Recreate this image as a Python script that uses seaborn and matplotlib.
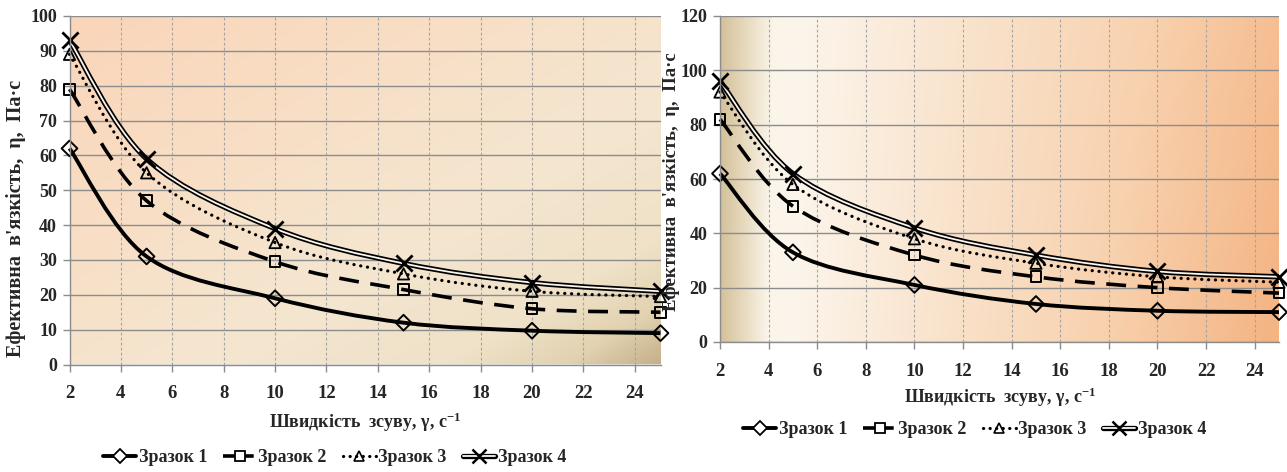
import numpy as np
import pandas as pd
import matplotlib
matplotlib.use("Agg")
import matplotlib.pyplot as plt
import seaborn as sns
from matplotlib.path import Path
from matplotlib.patches import PathPatch
from matplotlib.lines import Line2D
from matplotlib.legend_handler import HandlerTuple
import matplotlib.colors as mcolors

# ---------------- data ----------------
shear_rate = [2, 5, 10, 15, 20, 25]
series_names = ["Зразок 1", "Зразок 2", "Зразок 3", "Зразок 4"]

left_s1 = [62, 31, 19, 12, 9.7, 9]
left_s2 = [79, 47, 29.5, 21.5, 16, 15]
left_s3 = [89, 55, 35, 26, 21, 19.5]
left_s4 = [93, 59, 39, 29, 23.5, 21]

right_s1 = [62, 33, 21, 14, 11.5, 11]
right_s2 = [82, 50, 32, 24, 20, 18]
right_s3 = [92, 58, 38, 29, 24, 22]
right_s4 = [96, 62, 42, 32, 26, 24]

x_ticks = [2, 4, 6, 8, 10, 12, 14, 16, 18, 20, 22, 24]
left_y_ticks = [0, 10, 20, 30, 40, 50, 60, 70, 80, 90, 100]
right_y_ticks = [0, 20, 40, 60, 80, 100, 120]

x_label = "Швидкість  зсуву, γ, с$^{-1}$"
y_label_left = "Ефективна  в'язкість,  η,  Па·с"
y_label_right = "Ефективна  в'язкість,  η,  Па·с"

# ---------------- style ----------------
sns.set_theme(style="white")
plt.rcParams["font.family"] = ["Liberation Serif", "DejaVu Serif"]
plt.rcParams["font.weight"] = "bold"
plt.rcParams["axes.labelweight"] = "bold"
plt.rcParams["mathtext.fontset"] = "custom"
plt.rcParams["mathtext.rm"] = "Liberation Serif:bold"
plt.rcParams["mathtext.it"] = "Liberation Serif:bold"
plt.rcParams["mathtext.bf"] = "Liberation Serif:bold"

fig = plt.figure(figsize=(12.87, 4.72), dpi=100)
ax_l = fig.add_axes([69.5 / 1287, 1 - 364.5 / 472, (660.5 - 69.5) / 1287, (364.5 - 16) / 472])
ax_r = fig.add_axes([720 / 1287, 1 - 342 / 472, (1279 - 720) / 1287, (342 - 16) / 472])


def gradient(stops, t):
    pos = [p for p, _ in stops]
    cols = np.array([mcolors.to_rgb(c) for _, c in stops])
    out = np.zeros(t.shape + (3,))
    for k in range(3):
        out[..., k] = np.interp(t, pos, cols[:, k])
    return out


def smooth_path(x, y):
    pts = np.column_stack([x, y]).astype(float)
    n = len(pts)
    verts = [pts[0]]
    codes = [Path.MOVETO]
    for i in range(n - 1):
        p0 = pts[i - 1] if i > 0 else pts[i]
        p1 = pts[i]
        p2 = pts[i + 1]
        p3 = pts[i + 2] if i + 2 < n else pts[i + 1]
        c1 = p1 + (p2 - p0) / 6.0
        c2 = p2 - (p3 - p1) / 6.0
        verts += [c1, c2, p2]
        codes += [Path.CURVE4] * 3
    return Path(verts, codes)


line_styles = [
    dict(lw=2.8, ls="solid", cap="butt"),
    dict(lw=2.6, ls=(0, (5.5, 3.2)), cap="butt"),
    dict(lw=2.3, ls=(0, (0.05, 2.1)), cap="round"),
    None,  # double line
]
marker_specs = [
    dict(marker="D", s=64, facecolor="none", edgecolor="black", linewidth=1.4),
    dict(marker="s", s=60, facecolor="none", edgecolor="black", linewidth=1.4),
    dict(marker="^", s=66, facecolor="none", edgecolor="black", linewidth=1.3),
    dict(marker="x", s=135, color="black", linewidth=2.0),
]


def draw_panel(ax, series, yticks, ymax, bg):
    ny, nx = 200, 400
    u = np.linspace(0, 1, nx)[None, :].repeat(ny, 0)
    v = np.linspace(0, 1, ny)[:, None].repeat(nx, 1)  # 0 top -> 1 bottom
    ax.imshow(bg(u, v), extent=[0, 1, 0, 1], transform=ax.transAxes,
              aspect="auto", zorder=0, interpolation="bilinear")
    for yt in yticks:
        ax.axhline(yt, color="#8c8c8c", lw=1.0, zorder=1)
    for xt in x_ticks:
        ax.axvline(xt, color="#a3a3a3", lw=0.8, ls=(0, (2.5, 2)), zorder=1)

    for i, vals in enumerate(series):
        path = smooth_path(shear_rate, vals)
        if line_styles[i] is None:
            ax.add_patch(PathPatch(path, facecolor="none", edgecolor="black",
                                   lw=3.8, zorder=3, clip_on=False))
            ax.add_patch(PathPatch(path, facecolor="none", edgecolor="#fbf6f0",
                                   lw=1.3, zorder=3.1, clip_on=False))
        else:
            st = line_styles[i]
            ax.add_patch(PathPatch(path, facecolor="none", edgecolor="black",
                                   lw=st["lw"], linestyle=st["ls"],
                                   capstyle=st["cap"], zorder=3, clip_on=False))
        df = pd.DataFrame({"x": shear_rate, "y": vals})
        sns.scatterplot(data=df, x="x", y="y", ax=ax, zorder=4, legend=False,
                        clip_on=False, **marker_specs[i])

    ax.set_xlim(2, 25)
    ax.set_ylim(0, ymax)
    ax.set_xticks(x_ticks)
    ax.set_yticks(yticks)
    ax.set_xlabel("")
    ax.set_ylabel("")
    for side in ["top", "right"]:
        ax.spines[side].set_visible(False)
    for side in ["left", "bottom"]:
        ax.spines[side].set_color("#8c8c8c")
        ax.spines[side].set_linewidth(1.0)
        ax.spines[side].set_zorder(5)
    ax.tick_params(axis="both", which="major", length=5, width=1.0,
                   color="#8c8c8c", direction="out", labelsize=13.5,
                   bottom=True, left=True)
    ax.tick_params(axis="x", pad=10)
    ax.tick_params(axis="y", pad=4, labelsize=13)
    for lab in ax.get_xticklabels() + ax.get_yticklabels():
        lab.set_fontweight("bold")


def bg_left(u, v):
    t = (u + v) / 2.0
    stops = [(0.0, "#fad5b9"), (0.35, "#f8dfc6"), (0.6, "#f5e6d0"),
             (0.82, "#efe2c8"), (0.92, "#e2d2b1"), (1.0, "#c5b089")]
    return gradient(stops, t)


def bg_right(u, v):
    t = np.clip(u * (0.9 + 0.12 * v), 0, 1)
    stops = [(0.0, "#d3c199"), (0.04, "#e6d9bd"), (0.085, "#faf4e9"),
             (0.13, "#fcf5eb"), (0.4, "#f9e3cc"), (0.7, "#f8d1ae"),
             (1.0, "#f4b585")]
    return gradient(stops, t)


draw_panel(ax_l, [left_s1, left_s2, left_s3, left_s4], left_y_ticks, 100, bg_left)
draw_panel(ax_r, [right_s1, right_s2, right_s3, right_s4], right_y_ticks, 120, bg_right)

# axis labels
fig.text(365 / 1287, 1 - 422 / 472, x_label, ha="center", va="center",
         fontsize=13, fontweight="bold")
fig.text(1000 / 1287, 1 - 397 / 472, x_label, ha="center", va="center",
         fontsize=13, fontweight="bold")
fig.text(16 / 1287, 1 - 218 / 472, y_label_left, ha="center", va="center",
         rotation=90, fontsize=14.5, fontweight="bold")
fig.text(671 / 1287, 1 - 182 / 472, y_label_right, ha="center", va="center",
         rotation=90, fontsize=13.5, fontweight="bold")


def legend_handles():
    h1 = Line2D([], [], color="black", lw=2.8, marker="D", ms=7.5,
                mfc="white", mec="black", mew=1.3)
    h2 = Line2D([], [], color="black", lw=2.6, ls=(0, (3.5, 1.5)), marker="s",
                ms=7.5, mfc="white", mec="black", mew=1.3)
    h3 = Line2D([], [], color="black", lw=2.3, ls=(0, (0.05, 2.0)),
                dash_capstyle="round", marker="^", ms=7.5, mfc="none",
                mec="black", mew=1.2)
    h4a = Line2D([], [], color="black", lw=3.8)
    h4b = Line2D([], [], color="#fbf6f0", lw=1.3)
    h4c = Line2D([], [], color="black", lw=0, marker="x", ms=10, mew=1.8)
    return [h1, h2, h3, (h4a, h4b, h4c)]


for (cx, cy) in [(335 / 1287, 1 - 458 / 472), (975 / 1287, 1 - 430 / 472)]:
    fig.legend(legend_handles(), series_names, loc="center",
               bbox_to_anchor=(cx, cy), ncol=4, frameon=False,
               handlelength=1.8, handletextpad=0.15, columnspacing=0.9,
               handler_map={tuple: HandlerTuple(ndivide=1, pad=0)},
               prop={"weight": "bold", "size": 13})

fig.savefig("out.png", dpi=100)
